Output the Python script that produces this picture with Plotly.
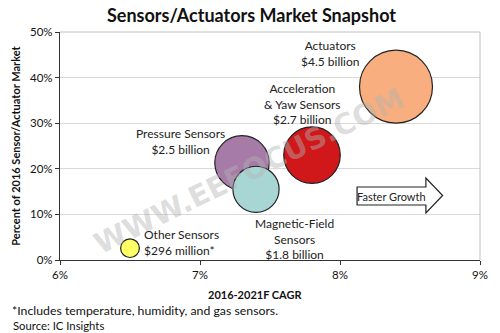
import plotly.graph_objects as go

# ---- data ----
segments = ["Actuators", "Acceleration & Yaw Sensors", "Pressure Sensors",
            "Magnetic-Field Sensors", "Other Sensors"]
cagr = [8.4, 7.8, 7.3, 7.4, 6.5]            # 2016-2021F CAGR (%)
share = [38, 23, 21.3, 15.5, 2.6]           # percent of 2016 market
market_bn = [4.5, 2.7, 2.5, 1.8, 0.296]     # market size (billion $)
labels = ["Actuators<br>$4.5 billion",
          "Acceleration<br>& Yaw Sensors<br>$2.7 billion",
          "Pressure Sensors<br>$2.5 billion",
          "Magnetic-Field<br>Sensors<br>$1.8 billion",
          "Other Sensors<br>$296 million*"]
colors = ["#F8AE7E", "#D0171A", "#A77BA8", "#A8D6D4", "#FFFF66"]
x_ticks = [6, 7, 8, 9]
y_ticks = [0, 10, 20, 30, 40, 50]

FONT = "Lato"
W, H = 500, 333
L, R, T, B = 60, 13, 32, 73
pw, ph = W - L - R, H - T - B


def px(x):
    return (x - L) / pw


def py(y):
    return (H - B - y) / ph


max_r = 36.5
sizeref = max(market_bn) / 2 / max_r ** 2

fig = go.Figure()
fig.add_trace(go.Scatter(
    x=cagr, y=share, mode="markers",
    marker=dict(size=market_bn, sizemode="area", sizeref=sizeref,
                color=colors, opacity=1,
                line=dict(color="#222222", width=1.2)),
    hovertext=segments, showlegend=False))

annotations = []


def note(x, y, text, size=12, xanchor="center", align="center", angle=0,
         color="#222222", family=FONT):
    annotations.append(dict(
        x=px(x), y=py(y), xref="paper", yref="paper", text=text,
        showarrow=False, align=align, xanchor=xanchor, yanchor="middle",
        textangle=angle, font=dict(family=family, size=size, color=color)))


# label positions (pixel) and alignment
label_pos = [(335, 54, "center"), (307, 104, "center"), (182, 141, "center"),
             (298, 239, "center"), (143, 242, "left")]
for lab, (lx, ly, al) in zip(labels, label_pos):
    note(lx, ly, lab, 12, xanchor=al, align=al)

# watermark
note(252, 171, "<b>WWW.EEFOCUS.COM</b>", 29, angle=-26,
     color="rgba(180,180,180,0.45)", family="DejaVu Sans")

note(397, 196, "Faster Growth", 11)
note(255, 15, "<b>Sensors/Actuators Market Snapshot</b>", 18, color="#111111")
note(14, 146, "<b>Percent of 2016 Sensor/Actuator Market</b>", 11, angle=-90,
     color="#111111")
note(258, 294, "<b>2016-2021F CAGR</b>", 11, color="#111111")
note(9, 310, "*Includes temperature, humidity, and gas sensors.", 12.3,
     xanchor="left", align="left", color="#111111")
note(10, 325, "Source: IC Insights", 11.3, xanchor="left", align="left",
     color="#111111")

# arrow shape (pixel -> paper)
pts = [(362, 187), (432, 187), (432, 178), (449, 195.5), (432, 213),
       (432, 205), (362, 205)]
path = "M " + " L ".join(f"{px(a):.4f},{py(b):.4f}" for a, b in pts) + " Z"

shapes = [
    dict(type="path", path=path, xref="paper", yref="paper",
         line=dict(color="#222222", width=1.2), fillcolor="white", layer="below"),
    dict(type="line", xref="paper", yref="paper", x0=0, x1=1, y0=1, y1=1,
         line=dict(color="#c0c0c0", width=1)),
    dict(type="line", xref="paper", yref="paper", x0=1, x1=1, y0=0, y1=1,
         line=dict(color="#c0c0c0", width=1)),
]

fig.update_layout(
    width=W, height=H, margin=dict(l=L, r=R, t=T, b=B),
    paper_bgcolor="white", plot_bgcolor="white",
    annotations=annotations, shapes=shapes,
    font=dict(family=FONT, size=11, color="#111111"),
    xaxis=dict(range=[6, 9], tickvals=x_ticks,
               ticktext=[f"{v}%" for v in x_ticks],
               showgrid=False, zeroline=False, showline=True,
               linecolor="#333333", linewidth=1.3, ticks="outside",
               ticklen=4, tickcolor="#333333",
               tickfont=dict(family=FONT, size=11.5)),
    yaxis=dict(range=[0, 50], tickvals=y_ticks,
               ticktext=[f"{v}%" for v in y_ticks],
               showgrid=True, gridcolor="#d9d9d9", gridwidth=1,
               zeroline=False, showline=True,
               linecolor="#333333", linewidth=1.3, ticks="outside",
               ticklen=4, tickcolor="#333333",
               tickfont=dict(family=FONT, size=11.5)),
)

fig.write_html("out.html")
